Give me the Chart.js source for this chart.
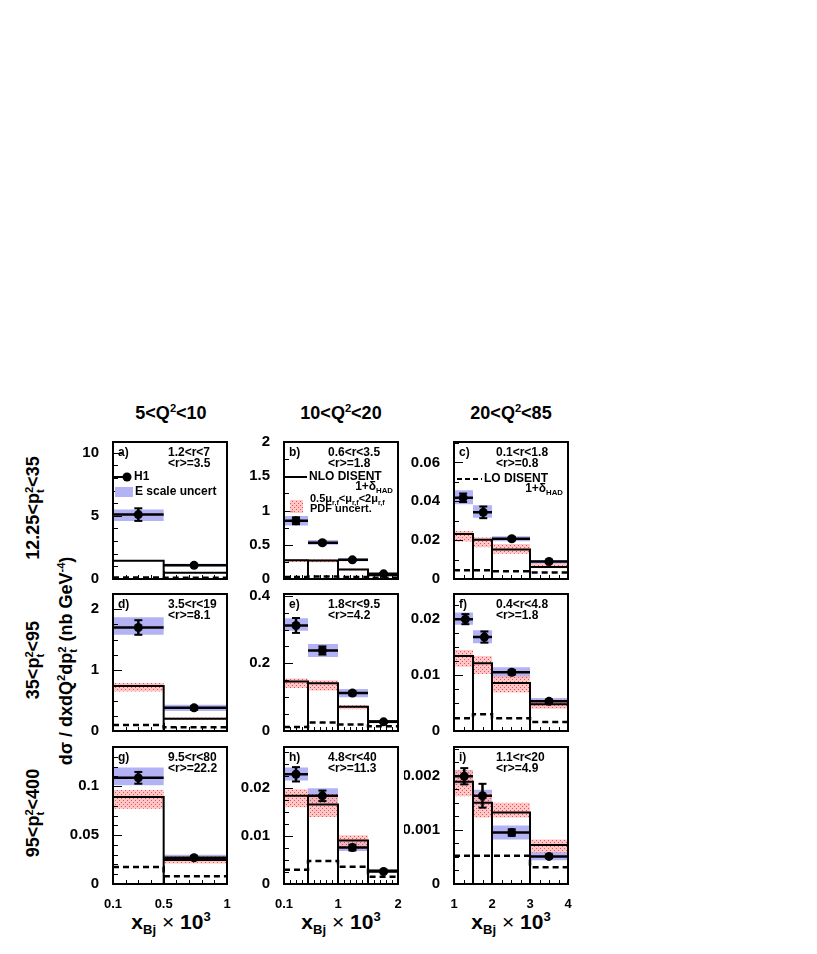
<!DOCTYPE html>
<html>
<head>
<meta charset="utf-8">
<script src="https://cdn.jsdelivr.net/npm/chart.js@4.4.1/dist/chart.umd.min.js"></script>
<style>
body { margin: 0; background: #fff; width: 817px; height: 954px; position: relative; overflow: hidden;
       font-family: "Liberation Sans", Arial, sans-serif; font-weight: bold; color: #000; }
.lbl { position: absolute; white-space: nowrap; transform: translate(-50%, -50%); }
.rot { transform: translate(-50%, -50%) rotate(-90deg); }
sup, sub { font-size: 62%; line-height: 0; }
.ss { display: inline-block; font-size: 62%; line-height: 1; vertical-align: -0.45em; text-align: left; }
.ss b { display: block; }
</style>
</head>
<body>
<div class="lbl" style="left:171px;top:413px;font-size:18px">5&lt;Q<sup>2</sup>&lt;10</div>
<div class="lbl" style="left:341px;top:413px;font-size:18px">10&lt;Q<sup>2</sup>&lt;20</div>
<div class="lbl" style="left:511px;top:413px;font-size:18px">20&lt;Q<sup>2</sup>&lt;85</div>

<div class="lbl rot" style="left:35px;top:508px;font-size:18px">12.25&lt;p<span class="ss"><b>2</b><b>t</b></span>&lt;35</div>
<div class="lbl rot" style="left:35px;top:660px;font-size:18px">35&lt;p<span class="ss"><b>2</b><b>t</b></span>&lt;95</div>
<div class="lbl rot" style="left:35px;top:813px;font-size:18px">95&lt;p<span class="ss"><b>2</b><b>t</b></span>&lt;400</div>
<div class="lbl rot" style="left:68px;top:661px;font-size:18px">d&sigma; / dxdQ<sup>2</sup>dp<span class="ss"><b>2</b><b>t</b></span> (nb GeV<sup>-4</sup>)</div>

<div class="lbl" style="left:171px;top:922px;font-size:21px">x<sub>Bj</sub> <span style="font-weight:normal">&times;</span> 10<sup>3</sup></div>
<div class="lbl" style="left:341px;top:922px;font-size:21px">x<sub>Bj</sub> <span style="font-weight:normal">&times;</span> 10<sup>3</sup></div>
<div class="lbl" style="left:511px;top:922px;font-size:21px">x<sub>Bj</sub> <span style="font-weight:normal">&times;</span> 10<sup>3</sup></div>

<script>
var FONT = '"Liberation Sans", Arial, sans-serif';

// panels a..i, row by row (rows: pt2 bins, columns: Q2 bins)
var panelLetters = ['a', 'b', 'c', 'd', 'e', 'f', 'g', 'h', 'i'];
var rRange = ['1.2<r<7', '0.6<r<3.5', '0.1<r<1.8', '3.5<r<19', '1.8<r<9.5', '0.4<r<4.8', '9.5<r<80', '4.8<r<40', '1.1<r<20'];
var rMean = ['<r>=3.5', '<r>=1.8', '<r>=0.8', '<r>=8.1', '<r>=4.2', '<r>=1.8', '<r>=22.2', '<r>=11.3', '<r>=4.9'];

// x_Bj x 10^3 bin edges, one set per Q2 column
var xBins = [[0.1, 0.5, 1], [0.1, 0.5, 1, 1.5, 2], [1, 1.5, 2, 3, 4]];
var xTickLabels = [[0.1, 0.5, 1], [0.1, 1, 2], [1, 2, 3, 4]];
var xMinorStep = [0.1, 0.1, 0.25];

var yMax = [10.85, 2.0, 0.0705, 2.25, 0.405, 0.0245, 0.14, 0.0286, 0.00253];
var yTickLabels = [[0, 5, 10], [0, 0.5, 1, 1.5, 2], [0, 0.02, 0.04, 0.06], [0, 1, 2], [0, 0.2, 0.4],
                   [0, 0.01, 0.02], [0, 0.05, 0.1], [0, 0.01, 0.02], [0, 0.001, 0.002]];
var yMinorStep = [1, 0.25, 0.01, 0.25, 0.05, 0.0025, 0.01, 0.0025, 0.00025];

// H1 data
var h1X = [[0.3, 0.74], [0.3, 0.74, 1.24, 1.76], [1.24, 1.77, 2.52, 3.5],
           [0.3, 0.74], [0.3, 0.74, 1.24, 1.76], [1.3, 1.8, 2.52, 3.5],
           [0.3, 0.74], [0.3, 0.74, 1.24, 1.76], [1.27, 1.75, 2.52, 3.5]];
var h1Y = [[5.1, 1.08], [0.85, 0.53, 0.28, 0.075], [0.0418, 0.0343, 0.0207, 0.009],
           [1.7, 0.38], [0.312, 0.238, 0.112, 0.027], [0.02, 0.0168, 0.0105, 0.0053],
           [0.1085, 0.0268], [0.0229, 0.0184, 0.0076, 0.0026], [0.00199, 0.00163, 0.00095, 0.00051]];
var h1Err = [[0.5, 0.08], [0.05, 0.025, 0.015, 0.01], [0.0022, 0.003, 0.0008, 0.0006],
             [0.12, 0.03], [0.022, 0.012, 0.006, 0.003], [0.0009, 0.001, 0.0004, 0.0003],
             [0.006, 0.0015], [0.0015, 0.0011, 0.0006, 0.0002], [0.00015, 0.00022, 0.00006, 0.00003]];
// energy scale uncertainty band
var eScaleLo = [[4.6, 1.0], [0.78, 0.5, 0.26, 0.06], [0.0385, 0.0315, 0.0194, 0.0078],
                [1.58, 0.33], [0.296, 0.219, 0.1, 0.023], [0.019, 0.0157, 0.0095, 0.0048],
                [0.101, 0.024], [0.0216, 0.017, 0.0069, 0.0024], [0.00183, 0.00145, 0.00082, 0.00044]];
var eScaleHi = [[5.5, 1.2], [0.92, 0.57, 0.3, 0.085], [0.0457, 0.038, 0.022, 0.0098],
                [1.87, 0.43], [0.333, 0.257, 0.124, 0.032], [0.0212, 0.018, 0.0114, 0.0059],
                [0.119, 0.03], [0.0243, 0.02, 0.0087, 0.0029], [0.0021, 0.00174, 0.00108, 0.00059]];
// NLO DISENT x (1+delta_HAD)
var nlo = [[1.45, 0.5], [0.275, 0.27, 0.14, 0.055], [0.0232, 0.0202, 0.0152, 0.0062],
           [0.74, 0.2], [0.146, 0.141, 0.072, 0.029], [0.0134, 0.0121, 0.0086, 0.0048],
           [0.089, 0.0245], [0.0184, 0.0166, 0.0091, 0.0028], [0.00189, 0.0015, 0.00132, 0.00072]];
// scale + PDF uncertainty band
var scaleLo = [[1.4, 0.47], [0.25, 0.245, 0.125, 0.045], [0.0193, 0.0163, 0.013, 0.0055],
               [0.65, 0.19], [0.127, 0.12, 0.064, 0.025], [0.0115, 0.0102, 0.0069, 0.004],
               [0.077, 0.021], [0.016, 0.014, 0.0073, 0.0025], [0.00162, 0.00123, 0.00123, 0.00058]];
var scaleHi = [[1.5, 0.55], [0.29, 0.285, 0.155, 0.06], [0.0247, 0.0213, 0.018, 0.0078],
               [0.79, 0.22], [0.155, 0.15, 0.076, 0.032], [0.0145, 0.0134, 0.0099, 0.0056],
               [0.096, 0.028], [0.0198, 0.0188, 0.0102, 0.0031], [0.0021, 0.00168, 0.0015, 0.00082]];
// LO DISENT x (1+delta_HAD)
var lo = [[0.12, 0.1], [0.03, 0.035, 0.03, 0.02], [0.0045, 0.0045, 0.004, 0.0033],
          [0.1, 0.06], [0.012, 0.025, 0.019, 0.014], [0.0023, 0.003, 0.0023, 0.0016],
          [0.0173, 0.008], [0.003, 0.0048, 0.0036, 0.0015], [0.00052, 0.00052, 0.00052, 0.00031]];

// layout of the 3x3 grid
var colLeft = [113, 284, 454];
var rowTop = [437, 589, 742];
var PW = 114, PH = 142, PAD_L = 50, PAD_T = 10, PAD_R = 10, PAD_B = 25;
var rangeX = [55, 44, 42];

var BLUE = 'rgb(178,178,245)';
var hatch = (function () {
    var pc = document.createElement('canvas');
    pc.width = 4; pc.height = 4;
    var g = pc.getContext('2d');
    g.fillStyle = 'rgba(255,180,180,0.75)';
    g.fillRect(0, 0, 4, 4);
    g.fillStyle = 'rgba(230,60,60,0.85)';
    g.fillRect(0, 0, 1, 1);
    g.fillRect(2, 2, 1, 1);
    return g.createPattern(pc, 'repeat');
})();

Chart.defaults.font.family = FONT;
Chart.defaults.color = '#000';

// histogram top: flat segment over each bin, vertical jumps at the edges
function stepPts(edges, vals) {
    var pts = [];
    for (var i = 0; i < vals.length; i++) {
        pts.push({x: edges[i], y: vals[i]}, {x: edges[i + 1], y: vals[i]});
    }
    return pts;
}

// histogram outline with each bin closed down to zero
function histPts(edges, vals) {
    var pts = [{x: edges[0], y: 0}];
    for (var i = 0; i < vals.length; i++) {
        pts.push({x: edges[i], y: vals[i]}, {x: edges[i + 1], y: vals[i]}, {x: edges[i + 1], y: 0});
    }
    return pts;
}

function errPts(edges, xs, ys, es) {
    var pts = [];
    for (var i = 0; i < ys.length; i++) {
        pts.push({x: edges[i], y: ys[i]}, {x: edges[i + 1], y: ys[i]}, {x: edges[i + 1], y: null});
        pts.push({x: xs[i], y: ys[i] - es[i]}, {x: xs[i], y: ys[i] + es[i]}, {x: xs[i], y: null});
    }
    return pts;
}

function capPts(xs, ys, es) {
    var pts = [];
    for (var i = 0; i < ys.length; i++) {
        pts.push({x: xs[i], y: ys[i] - es[i]}, {x: xs[i], y: ys[i] + es[i]});
    }
    return pts;
}

function isMajor(v, majors, step) {
    return majors.some(function (m) { return Math.abs(m - v) < step * 1e-3; });
}

function tickList(min, max, step, majors) {
    var out = [];
    var n = Math.floor((max - min) / step + 1e-6);
    for (var k = 0; k <= n; k++) {
        var v = +(min + k * step).toPrecision(8);
        out.push({value: v, major: isMajor(v, majors, step)});
    }
    return out;
}

function fmt(v) {
    return String(+v.toPrecision(6));
}

function richText(ctx, parts, x, y, size, align) {
    var total = 0, i;
    for (i = 0; i < parts.length; i++) {
        ctx.font = 'bold ' + (parts[i][1] ? size * 0.65 : size) + 'px ' + FONT;
        total += ctx.measureText(parts[i][0]).width;
    }
    var cx = align === 'right' ? x - total : x;
    ctx.textAlign = 'left';
    for (i = 0; i < parts.length; i++) {
        var kind = parts[i][1];
        ctx.font = 'bold ' + (kind ? size * 0.65 : size) + 'px ' + FONT;
        var dy = kind === 1 ? -size * 0.4 : (kind === -1 ? size * 0.35 : 0);
        ctx.fillText(parts[i][0], cx, y + dy);
        cx += ctx.measureText(parts[i][0]).width;
    }
}

function panelDecor(p) {
    var col = p % 3;
    return {
        id: 'decor' + p,
        afterDraw: function (chart) {
            var ctx = chart.ctx, a = chart.chartArea;
            var xs = chart.scales.x, ys = chart.scales.y;
            ctx.save();
            ctx.strokeStyle = '#000';
            ctx.lineWidth = 1;
            ctx.beginPath();
            xs.ticks.forEach(function (t) {
                var px = Math.round(xs.getPixelForValue(t.value)) + 0.5;
                ctx.moveTo(px, a.bottom);
                ctx.lineTo(px, a.bottom - (t.major ? 8 : 4));
            });
            ys.ticks.forEach(function (t) {
                var py = Math.round(ys.getPixelForValue(t.value)) + 0.5;
                ctx.moveTo(a.left, py);
                ctx.lineTo(a.left + (t.major ? 9 : 5), py);
            });
            ctx.stroke();
            ctx.lineWidth = 2;
            ctx.strokeRect(a.left, a.top, a.right - a.left, a.bottom - a.top);

            ctx.fillStyle = '#000';
            ctx.textBaseline = 'middle';
            ctx.textAlign = 'left';
            ctx.font = 'bold 12px ' + FONT;
            ctx.fillText(panelLetters[p] + ')', a.left + 5, a.top + 11);
            ctx.fillText(rRange[p], a.left + rangeX[col], a.top + 11);
            ctx.fillText(rMean[p], a.left + rangeX[col], a.top + 22);

            if (p === 0) {
                ctx.lineWidth = 2;
                ctx.beginPath();
                ctx.moveTo(a.left, a.top + 35);
                ctx.lineTo(a.left + 14, a.top + 35);
                ctx.stroke();
                ctx.beginPath();
                ctx.arc(a.left + 14, a.top + 35, 4.5, 0, Math.PI * 2);
                ctx.fill();
                ctx.fillText('H1', a.left + 21, a.top + 35);
                ctx.fillStyle = BLUE;
                ctx.fillRect(a.left + 2, a.top + 45, 18, 10);
                ctx.fillStyle = '#000';
                ctx.fillText('E scale uncert', a.left + 22, a.top + 50);
            }
            if (p === 1) {
                ctx.lineWidth = 2;
                ctx.beginPath();
                ctx.moveTo(a.left + 1, a.top + 35);
                ctx.lineTo(a.left + 23, a.top + 35);
                ctx.stroke();
                ctx.fillText('NLO DISENT', a.left + 25, a.top + 35);
                richText(ctx, [['1+\u03b4', 0], ['HAD', -1]], a.right - 5, a.top + 45, 12, 'right');
                ctx.fillStyle = hatch;
                ctx.fillRect(a.left + 6, a.top + 58, 13, 13);
                ctx.fillStyle = '#000';
                richText(ctx, [['0.5\u03bc', 0], ['r,f', -1], ['<\u03bc', 0], ['r,f', -1], ['<2\u03bc', 0], ['r,f', -1]],
                         a.left + 26, a.top + 57, 11, 'left');
                ctx.font = 'bold 11px ' + FONT;
                ctx.fillText('PDF uncert.', a.left + 26, a.top + 67);
            }
            if (p === 2) {
                ctx.lineWidth = 2;
                ctx.setLineDash([5, 3]);
                ctx.beginPath();
                ctx.moveTo(a.left + 3, a.top + 37);
                ctx.lineTo(a.left + 28, a.top + 37);
                ctx.stroke();
                ctx.setLineDash([]);
                ctx.fillText('LO DISENT', a.left + 30, a.top + 37);
                richText(ctx, [['1+\u03b4', 0], ['HAD', -1]], a.right - 5, a.top + 47, 12, 'right');
            }
            ctx.restore();
        }
    };
}

function makePanel(p) {
    var row = Math.floor(p / 3), col = p % 3;
    var edges = xBins[col];
    var showX = row === 2;

    var cv = document.createElement('canvas');
    var w = PW + PAD_L + PAD_R, h = PH + PAD_T + PAD_B;
    cv.width = w;
    cv.height = h;
    cv.style.cssText = 'position:absolute;left:' + (colLeft[col] - PAD_L) + 'px;top:' + (rowTop[row] - PAD_T) +
                       'px;width:' + w + 'px;height:' + h + 'px';
    document.body.appendChild(cv);

    var band = {pointRadius: 0, borderWidth: 0, fill: false};

    var datasets = [
        Object.assign({}, band, {label: 'E scale hi', data: stepPts(edges, eScaleHi[p]), fill: '+1', backgroundColor: BLUE, order: 5}),
        Object.assign({}, band, {label: 'E scale lo', data: stepPts(edges, eScaleLo[p]), order: 5}),
        Object.assign({}, band, {label: 'scale hi', data: stepPts(edges, scaleHi[p]), fill: '+1', backgroundColor: hatch, order: 4}),
        Object.assign({}, band, {label: 'scale lo', data: stepPts(edges, scaleLo[p]), order: 4}),
        {label: 'NLO DISENT', data: histPts(edges, nlo[p]), borderColor: '#000', borderWidth: 2,
         pointRadius: 0, fill: false, order: 3},
        {label: 'LO DISENT', data: stepPts(edges, lo[p]), borderColor: '#000', borderWidth: 2.5,
         borderDash: [6, 4], pointRadius: 0, fill: false, order: 2},
        {label: 'H1 errors', data: errPts(edges, h1X[p], h1Y[p], h1Err[p]), borderColor: '#000', borderWidth: 2.5,
         pointRadius: 0, fill: false, spanGaps: false, order: 1},
        {label: 'H1 caps', data: capPts(h1X[p], h1Y[p], h1Err[p]), showLine: false, pointStyle: 'line',
         pointRadius: 4, borderColor: '#000', borderWidth: 2, order: 1},
        {label: 'H1', data: h1X[p].map(function (x, i) { return {x: x, y: h1Y[p][i]}; }), showLine: false,
         pointStyle: 'circle', pointRadius: 4.5, pointBackgroundColor: '#000', pointBorderWidth: 0, order: 0}
    ];

    var xMajors = xTickLabels[col], yMajors = yTickLabels[p];

    new Chart(cv.getContext('2d'), {
        type: 'line',
        data: {datasets: datasets},
        options: {
            responsive: false,
            animation: false,
            devicePixelRatio: 1,
            events: [],
            layout: {padding: {left: 0, top: PAD_T, right: PAD_R, bottom: 0}},
            plugins: {legend: {display: false}, tooltip: {enabled: false}},
            scales: {
                x: {
                    type: 'linear', position: 'bottom',
                    min: edges[0], max: edges[edges.length - 1],
                    grid: {display: false}, border: {display: false},
                    ticks: {
                        autoSkip: false, maxRotation: 0, padding: 5,
                        font: {size: 13, weight: 'bold', family: FONT},
                        callback: function (v) {
                            return showX && isMajor(v, xMajors, xMinorStep[col]) ? fmt(v) : '';
                        }
                    },
                    afterBuildTicks: function (s) {
                        s.ticks = tickList(edges[0], edges[edges.length - 1], xMinorStep[col], xMajors);
                    },
                    afterFit: function (s) { s.height = PAD_B; }
                },
                y: {
                    type: 'linear', position: 'left',
                    min: 0, max: yMax[p],
                    grid: {display: false}, border: {display: false},
                    ticks: {
                        autoSkip: false, padding: 6,
                        font: {size: 15, weight: 'bold', family: FONT},
                        callback: function (v) {
                            return isMajor(v, yMajors, yMinorStep[p]) ? fmt(v) : '';
                        }
                    },
                    afterBuildTicks: function (s) {
                        s.ticks = tickList(0, yMax[p], yMinorStep[p], yMajors);
                    },
                    afterFit: function (s) { s.width = PAD_L; }
                }
            }
        },
        plugins: [panelDecor(p)]
    });
}

for (var p = 0; p < 9; p++) makePanel(p);
</script>
</body>
</html>
